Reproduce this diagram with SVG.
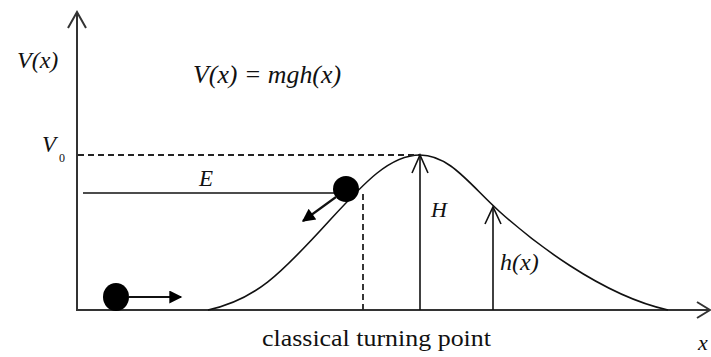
<svg xmlns="http://www.w3.org/2000/svg" width="711" height="357" viewBox="0 0 711 357">
<defs>
<style>
.ax{stroke:#333;stroke-width:2;fill:none}
.ln{stroke:#111;stroke-width:1.6;fill:none}
.ds{stroke:#222;stroke-width:1.8;fill:none;stroke-dasharray:6 4}
.op{stroke:#111;stroke-width:1.6;fill:none;stroke-linejoin:miter}
text{fill:#111}
</style>
<marker id="fa" viewBox="0 0 10 10" refX="9" refY="5" markerWidth="17" markerHeight="13" markerUnits="userSpaceOnUse" orient="auto">
<path d="M0,0 L10,5 L0,10 Z" fill="#000"/>
</marker>
</defs>
<rect width="711" height="357" fill="#fff"/>
<g id="axes">
<line class="ax" x1="77" y1="13" x2="77" y2="311"/>
<polyline class="ax" points="68,28 77,12 86,28"/>
<line class="ax" x1="76" y1="310" x2="709" y2="310"/>
<polyline class="ax" points="697,302 710,310 697,318"/>
</g>
<g id="curve">
<path class="ln" d="M208,310 C255,300 280,275 330,220 C365,182 390,155 420,155 C450,155 470,185 500,212 C530,239 600,295 668,310"/>
</g>
<g id="connectors">
<line class="ds" x1="78" y1="155" x2="420" y2="155"/>
<line class="ln" x1="83" y1="193" x2="340" y2="193"/>
<line class="ds" x1="363" y1="194" x2="363" y2="310"/>
<line class="ln" x1="420" y1="310" x2="420" y2="156"/>
<polyline class="op" points="412,173 420,155 428,173"/>
<line class="ln" x1="493" y1="310" x2="493" y2="208"/>
<polyline class="op" points="485,224 493,207 501,224"/>
<line class="ln" x1="129" y1="297" x2="181" y2="297" marker-end="url(#fa)" style="stroke-width:2"/>
<line class="ln" x1="336" y1="197" x2="303" y2="221" marker-end="url(#fa)" style="stroke-width:2.2"/>
</g>
<g id="ball-left"><ellipse cx="116" cy="297" rx="13" ry="14" fill="#000"/></g>
<g id="ball-slope"><circle cx="346" cy="189" r="13" fill="#000"/></g>
<g id="labels" font-family="Liberation Serif, Times New Roman, DejaVu Serif, serif">
<text font-style="italic" x="17" y="68" font-size="24">V(x)</text>
<text font-style="italic" x="193" y="83" font-size="26" textLength="148" lengthAdjust="spacingAndGlyphs">V(x) = mgh(x)</text>
<text font-style="italic" x="42" y="152" font-size="23">V</text>
<text x="59" y="162" font-size="12">0</text>
<text font-style="italic" x="199" y="186" font-size="23">E</text>
<text font-style="italic" x="431" y="217" font-size="22">H</text>
<text font-style="italic" x="500" y="270" font-size="24">h(x)</text>
<text font-style="italic" x="698" y="350" font-size="22">x</text>
<text x="262" y="346" font-size="23" textLength="229" lengthAdjust="spacingAndGlyphs">classical turning point</text>
</g>
</svg>
